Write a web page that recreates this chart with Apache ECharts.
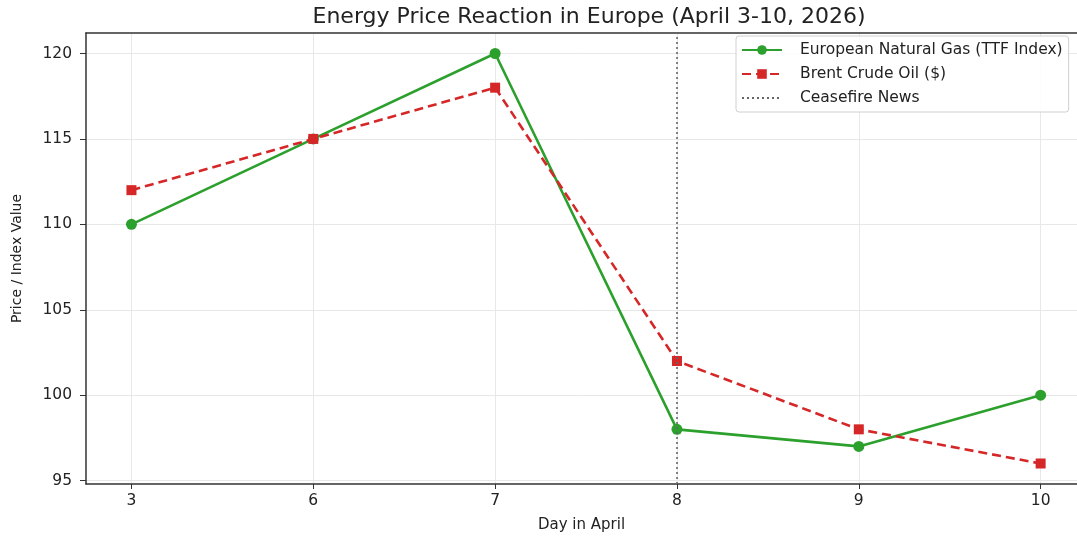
<!DOCTYPE html>
<html>
<head>
<meta charset="utf-8">
<title>Energy Price Reaction in Europe</title>
<script src="https://cdn.jsdelivr.net/npm/echarts@6/dist/echarts.min.js"></script>
<style>
  html, body { margin: 0; padding: 0; background: #fff; }
  #chart { width: 1077px; height: 540px; }
</style>
</head>
<body>
<div id="chart"></div>
<script>
// data
let days = ['3', '6', '7', '8', '9', '10'];
let gasTTF = [110, 115, 120, 98, 97, 100];
let brentOil = [112, 115, 118, 102, 98, 96];
let yTicks = [95, 100, 105, 110, 115, 120];
let ceasefireDay = '8';

let font = 'DejaVu Sans';
let idx = days.map((d, i) => i);
let pairs = (arr) => arr.map((v, i) => [i, v]);

let myChart = echarts.init(document.getElementById('chart'));

let option = {
    animation: false,
    backgroundColor: '#fff',
    title: {
        text: 'Energy Price Reaction in Europe (April 3-10, 2026)',
        left: 584,
        textAlign: 'center',
        top: 1,
        textStyle: { fontFamily: font, fontSize: 22, fontWeight: 'normal', color: '#222' }
    },
    legend: {
        orient: 'vertical',
        left: 736,
        top: 36,
        itemWidth: 40,
        itemHeight: 12,
        itemGap: 8,
        padding: [6, 6, 6, 5],
        borderColor: '#d0d0d0',
        borderWidth: 1,
        borderRadius: 3,
        backgroundColor: 'rgba(255,255,255,0.85)',
        textStyle: { fontFamily: font, fontSize: 15.5, color: '#222', padding: [0, 0, 0, 13] },
        data: [
            'European Natural Gas (TTF Index)',
            'Brent Crude Oil ($)',
            { name: 'Ceasefire News', itemStyle: { opacity: 0 } }
        ]
    },
    grid: { left: 86, right: 0, top: 33, bottom: 56, outerBoundsMode: 'none' },
    xAxis: [{
        type: 'value',
        min: -0.25,
        max: 5.2,
        name: 'Day in April',
        nameLocation: 'middle',
        nameGap: 34,
        nameTextStyle: { fontFamily: font, fontSize: 15, color: '#222' },
        axisLine: { onZero: false, lineStyle: { color: '#333', width: 1.5 } },
        axisTick: { customValues: idx, length: 5, lineStyle: { color: '#333' } },
        axisLabel: {
            customValues: idx,
            formatter: (v) => days[Math.round(v)],
            fontFamily: font, fontSize: 15.5, color: '#222', margin: 9
        },
        splitLine: { show: true, lineStyle: { color: '#e8e8e8', width: 1 } }
    }, {
        type: 'value',
        position: 'top',
        min: -0.25,
        max: 5.2,
        axisLine: { onZero: false, lineStyle: { color: '#333', width: 1.5 } },
        axisTick: { show: false },
        axisLabel: { show: false },
        splitLine: { show: false }
    }],
    yAxis: {
        type: 'value',
        min: 94.8,
        max: 121.2,
        name: 'Price / Index Value',
        nameLocation: 'middle',
        nameGap: 62,
        nameTextStyle: { fontFamily: font, fontSize: 14, color: '#222' },
        axisLine: { show: true, onZero: false, lineStyle: { color: '#333', width: 1.5 } },
        axisTick: { show: true, customValues: yTicks, length: 6, lineStyle: { color: '#333' } },
        axisLabel: { customValues: yTicks, fontFamily: font, fontSize: 15.5, color: '#222', margin: 14 },
        splitLine: { show: true, lineStyle: { color: '#e8e8e8', width: 1 } }
    },
    series: [{
        name: 'European Natural Gas (TTF Index)',
        type: 'line',
        data: pairs(gasTTF),
        symbol: 'circle',
        symbolSize: 11,
        itemStyle: { color: '#2ca02c' },
        lineStyle: { color: '#2ca02c', width: 2.6 },
        z: 3
    }, {
        name: 'Brent Crude Oil ($)',
        type: 'line',
        data: pairs(brentOil),
        symbol: 'rect',
        symbolSize: 10,
        itemStyle: { color: '#d62728' },
        lineStyle: { color: '#d62728', width: 2.6, type: [9, 5] },
        z: 4
    }, {
        name: 'Ceasefire News',
        type: 'line',
        data: [],
        symbol: 'none',
        itemStyle: { color: '#666' },
        lineStyle: { color: '#666', width: 1.6, type: [2, 3] },
        markLine: {
            silent: true,
            symbol: 'none',
            label: { show: false },
            lineStyle: { color: '#666', width: 1.6, type: [2, 3] },
            data: [{ xAxis: days.indexOf(ceasefireDay) }]
        },
        z: 2
    }]
};

myChart.setOption(option);
</script>
</body>
</html>
